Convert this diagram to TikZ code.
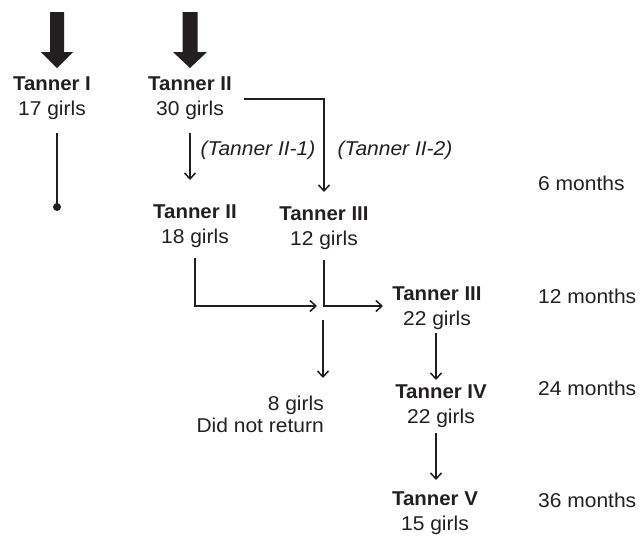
\documentclass[tikz,border=0pt]{standalone}
\usepackage{fontspec}
\setmainfont{Liberation Sans}[FakeStretch=1.05]
\newfontfamily\tbold{Liberation Sans}[FakeStretch=1.02]
\usetikzlibrary{arrows.meta}
\definecolor{ink}{HTML}{231F20}
\begin{document}
\begin{tikzpicture}[x=1pt,y=-1pt,
  txt/.style={align=center,inner sep=0pt,font=\fontsize{20}{25}\selectfont,text=ink},
  lbl/.style={inner sep=0pt,font=\fontsize{20}{25}\selectfont,text=ink},
  conn/.style={line width=1.5pt,draw=ink},
  arr/.style={conn,-{Straight Barb[length=6pt,width=11pt,line width=1.5pt]}},
  bigarr/.style={fill=ink}]
\useasboundingbox (0,0) rectangle (641,536);
% big arrows
\fill[bigarr] (50,12) -- (64,12) -- (64,52) -- (73,52) -- (57,68) -- (41,52) -- (50,52) -- cycle;
\fill[bigarr] (182.5,12) -- (197.5,12) -- (197.5,52) -- (207,52) -- (190,68) -- (173,52) -- (182.5,52) -- cycle;
% nodes
\node[txt] (t1) at (52,98) {{\tbold\bfseries Tanner I}\\17 girls};
\node[txt] (t2) at (190,98) {{\tbold\bfseries Tanner II}\\30 girls};
\node[txt] (t2b) at (195,226) {{\tbold\bfseries Tanner II}\\18 girls};
\node[txt] (t3a) at (324,228) {{\tbold\bfseries Tanner III}\\12 girls};
\node[txt] (t3b) at (437,308) {{\tbold\bfseries Tanner III}\\22 girls};
\node[txt] (t4) at (441,406) {{\tbold\bfseries Tanner IV}\\22 girls};
\node[txt] (t5) at (435,513) {{\tbold\bfseries Tanner V}\\15 girls};
\node[txt,align=right,anchor=east,font=\fontsize{20}{22}\selectfont] (lost) at (324,414) {8 girls\\Did not return};
\node[lbl] (l1) at (258,150) {\itshape (Tanner II-1)};
\node[lbl] (l2) at (395,150) {\itshape (Tanner II-2)};
\node[lbl,anchor=west] (m6) at (538,183) {6 months};
\node[lbl,anchor=west] (m12) at (538,296) {12 months};
\node[lbl,anchor=west] (m24) at (538,388) {24 months};
\node[lbl,anchor=west] (m36) at (538,500) {36 months};
% connector end points
\coordinate (a1) at (57,133);
\coordinate (a2) at (57,207);
\coordinate (b1) at (190,133);
\coordinate (b2) at (190,180);
\coordinate (c1) at (244,99);
\coordinate (c2) at (324,99);
\coordinate (c3) at (324,192);
\coordinate (d1) at (195,258);
\coordinate (d2) at (195,306);
\coordinate (d3) at (317,306);
\coordinate (e1) at (324,260);
\coordinate (e2) at (324,306);
\coordinate (e3) at (383,306);
\coordinate (f1) at (323,320);
\coordinate (f2) at (323,378);
\coordinate (g1) at (436,333);
\coordinate (g2) at (436,380);
\coordinate (h1) at (436,433);
\coordinate (h2) at (436,480);
% connectors
\draw[conn] (a1) -- (a2);
\fill[ink] (a2) circle (4pt);
\draw[arr] (b1) -- (b2);
\draw[arr] (c1) -- (c2) -- (c3);
\draw[arr] (d1) -- (d2) -- (d3);
\draw[arr] (e1) -- (e2) -- (e3);
\draw[arr] (f1) -- (f2);
\draw[arr] (g1) -- (g2);
\draw[arr] (h1) -- (h2);
\end{tikzpicture}
\end{document}
